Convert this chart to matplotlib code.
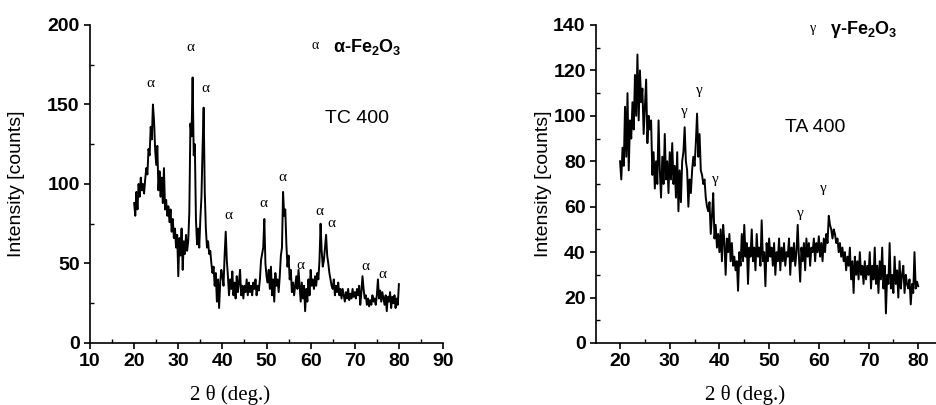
import numpy as np
import matplotlib
matplotlib.use("Agg")
import matplotlib.pyplot as plt
from matplotlib.ticker import MultipleLocator

plt.rcParams['font.family'] = ['Liberation Sans', 'DejaVu Sans']
plt.rcParams['mathtext.default'] = 'regular'

# 2-theta grid, 0.25 deg steps from 20 to 80
two_theta = np.arange(20, 80.001, 0.25)

# TC 400 (alpha-Fe2O3) intensity
tc400 = [
    88, 80, 95, 84, 100, 92, 104, 96, 100, 94, 103, 110, 106, 122, 118, 136, 128, 150, 140, 122,
    112, 124, 96, 108, 92, 104, 88, 110, 84, 90, 80, 86, 76, 84, 70, 78, 66, 72, 60, 68,
    42, 66, 55, 72, 46, 64, 56, 68, 58, 64, 82, 138, 130, 167, 118, 125, 78, 62, 72, 60,
    78, 92, 122, 148, 95, 72, 60, 64, 56, 58, 50, 44, 48, 36, 44, 26, 40, 22, 38, 46,
    42, 36, 55, 70, 52, 42, 30, 40, 34, 45, 30, 38, 28, 42, 32, 38, 46, 30, 36, 28,
    36, 32, 40, 30, 38, 32, 36, 30, 38, 34, 40, 30, 36, 33, 40, 52, 56, 60, 78, 50,
    42, 38, 46, 34, 48, 30, 40, 26, 44, 36, 40, 32, 42, 55, 60, 95, 80, 84, 62, 48,
    55, 40, 46, 32, 38, 30, 36, 42, 34, 46, 36, 26, 38, 28, 36, 20, 34, 26, 40, 30,
    46, 36, 40, 34, 42, 36, 44, 40, 52, 75, 58, 48, 52, 60, 68, 55, 50, 44, 40, 36,
    34, 40, 30, 36, 32, 38, 30, 34, 28, 34, 30, 26, 32, 28, 34, 27, 31, 28, 34, 29,
    32, 28, 34, 30, 36, 24, 32, 42, 34, 28, 30, 24, 28, 23, 27, 24, 30, 26, 28, 24,
    30, 40, 28, 33, 26, 32, 28, 24, 30, 20, 29, 26, 32, 22, 29, 25, 30, 22, 28, 24,
    37,
]

# TA 400 (gamma-Fe2O3) intensity
ta400 = [
    80, 72, 86, 78, 104, 82, 110, 76, 98, 90, 106, 94, 118, 100, 127, 98, 120, 106, 112, 92,
    104, 116, 88, 100, 94, 98, 74, 84, 68, 80, 70, 98, 76, 64, 82, 70, 92, 72, 80, 66,
    84, 72, 88, 70, 78, 64, 84, 58, 76, 62, 80, 84, 95, 80, 76, 60, 72, 66, 76, 82,
    78, 88, 101, 82, 92, 76, 74, 70, 72, 64, 60, 58, 62, 48, 56, 66, 46, 52, 42, 48,
    40, 50, 36, 52, 44, 30, 46, 40, 48, 36, 44, 34, 38, 32, 36, 23, 40, 34, 48, 36,
    52, 38, 44, 26, 42, 38, 50, 36, 42, 32, 48, 38, 42, 34, 54, 36, 40, 25, 44, 36,
    46, 38, 42, 34, 44, 30, 40, 36, 46, 32, 42, 36, 44, 34, 40, 38, 46, 30, 42, 36,
    44, 34, 40, 52, 38, 27, 42, 36, 44, 32, 46, 38, 44, 34, 42, 40, 46, 36, 44, 40,
    47, 38, 44, 36, 46, 40, 48, 44, 56, 52, 50, 46, 50, 48, 44, 46, 40, 44, 38, 42,
    36, 40, 32, 38, 34, 42, 28, 36, 22, 38, 30, 36, 28, 40, 30, 34, 26, 36, 28, 34,
    30, 40, 24, 34, 28, 42, 26, 34, 22, 36, 28, 42, 24, 34, 13, 30, 26, 44, 24, 30,
    22, 38, 26, 32, 20, 36, 24, 30, 34, 22, 30, 26, 24, 28, 17, 26, 22, 40, 24, 27,
    25,
]

# peak markers (label positions)
alpha_x = [23.6, 32.7, 36.1, 41.3, 49.2, 53.7, 57.6, 61.9, 64.6, 72.3, 76.2]
alpha_y = [163, 186, 160, 80, 88, 104, 49, 83, 75, 48, 43]
gamma_x = [32.9, 35.9, 39.1, 56.2, 61.0]
gamma_y = [102, 111, 72, 57, 68]

serif = ['Liberation Serif', 'DejaVu Serif']

fig = plt.figure(figsize=(9.36, 4.05), dpi=100)
ax1 = fig.add_axes([0.0962, 0.1531, 0.3771, 0.7852])
ax2 = fig.add_axes([0.6368, 0.1531, 0.3632, 0.7852])


def style(ax):
    for s in ['top', 'right']:
        ax.spines[s].set_visible(False)
    for s in ['left', 'bottom']:
        ax.spines[s].set_linewidth(1.2)
    ax.tick_params(which='major', direction='out', length=4, width=1.2, labelsize=14)
    ax.tick_params(which='minor', direction='in', length=3, width=1)
    for lab in ax.get_xticklabels() + ax.get_yticklabels():
        lab.set_fontweight('bold')


ax1.plot(two_theta, tc400, color='black', lw=1.4)
ax1.set_xlim(10, 90)
ax1.set_ylim(0, 200)
ax1.xaxis.set_major_locator(MultipleLocator(10))
ax1.xaxis.set_minor_locator(MultipleLocator(5))
ax1.yaxis.set_major_locator(MultipleLocator(50))
ax1.yaxis.set_minor_locator(MultipleLocator(25))
style(ax1)
ax1.set_ylabel('Intensity [counts]', fontsize=14, labelpad=16)
for x, y in zip(alpha_x, alpha_y):
    ax1.text(x, y, 'α', fontsize=11, family=serif, ha='center', va='center')
ax1.text(61, 187, 'α', fontsize=10, family=serif, ha='center', va='center')
ax1.text(65, 186, 'α-Fe$_2$O$_3$', fontsize=13, fontweight='bold', ha='left', va='center')
ax1.text(70.5, 141.5, 'TC 400', fontsize=14, ha='center', va='center')

ax2.plot(two_theta, ta400, color='black', lw=1.4)
ax2.set_xlim(15.17, 83.58)
ax2.set_ylim(0, 140)
ax2.xaxis.set_major_locator(MultipleLocator(10))
ax2.xaxis.set_minor_locator(MultipleLocator(5))
ax2.yaxis.set_major_locator(MultipleLocator(20))
ax2.yaxis.set_minor_locator(MultipleLocator(10))
style(ax2)
ax2.set_ylabel('Intensity [counts]', fontsize=14, labelpad=1)
for x, y in zip(gamma_x, gamma_y):
    ax2.text(x, y, 'γ', fontsize=11, family=serif, ha='center', va='center')
ax2.text(58.8, 138.5, 'γ', fontsize=10, family=serif, ha='center', va='center')
ax2.text(62.3, 138, 'γ-Fe$_2$O$_3$', fontsize=13, fontweight='bold', ha='left', va='center')
ax2.text(59.2, 94.7, 'TA 400', fontsize=14, ha='center', va='center')

fig.text(230 / 936, 1 - 395 / 405, '2 θ (deg.)', fontsize=15,
         family=serif, ha='center', va='center')
fig.text(745 / 936, 1 - 395 / 405, '2 θ (deg.)', fontsize=15,
         family=serif, ha='center', va='center')

fig.savefig('out.png', dpi=100)
